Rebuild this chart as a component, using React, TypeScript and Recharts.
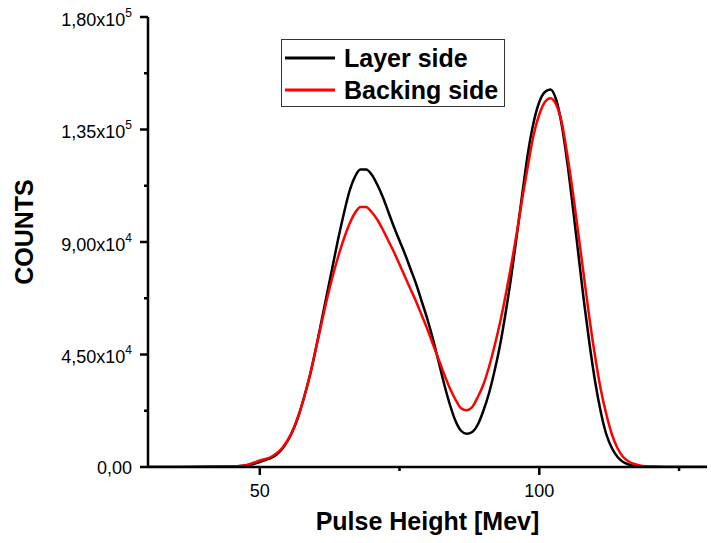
import React from 'react';
import { LineChart, Line, XAxis, YAxis, Legend, Label } from 'recharts';

// Pulse height channel (MeV)
const pulseHeight = [
  30, 35, 40, 44, 46, 47, 48, 49, 50, 51, 52, 53, 54, 55, 56, 57, 58, 59, 60, 61,
  62, 63, 64, 65, 66, 67, 68, 69, 70, 71, 72, 73, 74, 75, 76, 77, 78, 79, 80, 81,
  82, 83, 84, 85, 86, 87, 88, 89, 90, 91, 92, 93, 94, 95, 96, 97, 98, 99, 100, 101,
  102, 103, 104, 105, 106, 107, 108, 109, 110, 111, 112, 113, 114, 115, 116, 117, 118, 119, 120, 125,
  130,
];

// Counts in thousands, layer side
const layerSide = [
  0, 0, 0.1, 0.2, 0.3, 0.5, 0.8, 1.3, 2.0, 2.8, 3.6, 5.0, 7.2, 10.5, 15, 21, 28.5, 37, 47, 58,
  69, 80, 91, 101, 110, 116, 119, 119, 117, 113, 108, 102, 96, 90.5, 85, 79, 73, 66, 59, 51,
  42, 33, 25, 18.5, 14.5, 13.3, 14, 17, 22.5, 29.5, 38.5, 49, 62, 76.5, 93, 110, 126, 138, 146, 150,
  151, 147, 137, 122, 104, 85, 66, 49, 34, 22, 13, 7.5, 4, 2, 1, 0.4, 0.2, 0.1, 0.1, 0,
  0,
];

// Counts in thousands, backing side
const backingSide = [
  0, 0, 0.1, 0.2, 0.3, 0.5, 1, 1.8, 2.6, 3.2, 4.0, 5.5, 7.6, 10.8, 15.2, 21, 28.5, 37, 47, 57,
  67, 76, 84, 91, 97, 101.5, 104, 104, 102, 99, 95, 90.5, 86, 81, 76, 71, 66, 60.5, 55, 49,
  43, 37, 31.5, 27, 23.5, 22.7, 24, 28, 33, 40, 48.5, 58, 69, 81, 94, 108, 121, 133, 141, 146,
  147.5, 145, 138, 125, 110, 93, 76, 59, 44, 31, 21, 13, 7.5, 4, 2.2, 1.2, 0.6, 0.3, 0.2, 0,
  0,
];

const seriesNames = ['Layer side', 'Backing side'];

const xMajorTicks = [50, 100];
const xMinorTicks = [75, 125];
const yMajorTicks = [0, 45000, 90000, 135000, 180000];
const yMinorTicks = [22500, 67500, 112500, 157500];
const yTickMantissas = ['0,00', '4,50x10', '9,00x10', '1,35x10', '1,80x10'];
const yTickExponents = ['', '4', '4', '5', '5'];

const data = pulseHeight.map((x, i) => ({
  x,
  layer: layerSide[i] * 1000,
  backing: backingSide[i] * 1000,
}));

const FONT = '"Liberation Sans", Arial, Helvetica, sans-serif';
const AXIS = { stroke: '#000', strokeWidth: 2.5 };
const MAJOR = 8;
const MINOR = 4;
const TICK_FONT = 18;

const xAllTicks = [...xMajorTicks, ...xMinorTicks].sort((a, b) => a - b);
const yAllTicks = [...yMajorTicks, ...yMinorTicks].sort((a, b) => a - b);

const BottomTick = (props: any) => {
  const { x, y, payload } = props;
  const major = xMajorTicks.includes(payload.value);
  return (
    <g>
      <line x1={x} x2={x} y1={y} y2={y + (major ? MAJOR : MINOR)} stroke="#000" strokeWidth={2.5} />
      {major && (
        <text x={x} y={y + 30} textAnchor="middle" fontFamily={FONT} fontSize={TICK_FONT} fill="#000">
          {payload.value}
        </text>
      )}
    </g>
  );
};

const TopTick = (props: any) => {
  const { x, y, payload } = props;
  const major = xMajorTicks.includes(payload.value);
  return <line x1={x} x2={x} y1={y} y2={y - (major ? MAJOR : MINOR)} stroke="#000" strokeWidth={2.5} />;
};

const LeftTick = (props: any) => {
  const { x, y, payload } = props;
  const idx = yMajorTicks.indexOf(payload.value);
  const major = idx >= 0;
  return (
    <g>
      <line x1={x - (major ? MAJOR : MINOR)} x2={x} y1={y} y2={y} stroke="#000" strokeWidth={2.5} />
      {major && (
        <text
          x={x - 16}
          y={y + (yTickExponents[idx] ? 8.5 : 6.5)}
          textAnchor="end"
          fontFamily={FONT}
          fontSize={TICK_FONT}
          fill="#000"
        >
          {yTickMantissas[idx]}
          {yTickExponents[idx] && (
            <tspan dy={-9} fontSize={12}>
              {yTickExponents[idx]}
            </tspan>
          )}
        </text>
      )}
    </g>
  );
};

const RightTick = (props: any) => {
  const { x, y, payload } = props;
  const major = yMajorTicks.includes(payload.value);
  return <line x1={x} x2={x + (major ? MAJOR : MINOR)} y1={y} y2={y} stroke="#000" strokeWidth={2.5} />;
};

const LegendBox = (props: any) => {
  const items = [...(props.payload || [])].sort(
    (a: any, b: any) => seriesNames.indexOf(a.value) - seriesNames.indexOf(b.value)
  );
  return (
    <div
      style={{
        width: 224,
        height: 68,
        border: '1px solid #333',
        boxSizing: 'border-box',
        background: '#fff',
        position: 'relative',
        fontFamily: FONT,
        fontWeight: 'bold',
        fontSize: 25,
        color: '#000',
      }}
    >
      {items.map((entry: any, i: number) => (
        <div
          key={entry.value}
          style={{
            position: 'absolute',
            left: 3,
            top: 2 + i * 32,
            height: 32,
            display: 'flex',
            alignItems: 'center',
            whiteSpace: 'nowrap',
          }}
        >
          <svg width={50} height={4} style={{ display: 'block' }}>
            <line x1={0} x2={50} y1={2} y2={2} stroke={entry.color} strokeWidth={3} />
          </svg>
          <span style={{ marginLeft: 9, lineHeight: '32px' }}>{entry.value}</span>
        </div>
      ))}
    </div>
  );
};

const CountsLabel = (props: any) => {
  const { viewBox } = props;
  const cx = viewBox.x + 33;
  const cy = viewBox.y + viewBox.height / 2 - 10;
  return (
    <text
      x={cx}
      y={cy}
      transform={`rotate(-90 ${cx} ${cy})`}
      textAnchor="middle"
      fontFamily={FONT}
      fontWeight="bold"
      fontSize={25}
      fill="#000"
    >
      COUNTS
    </text>
  );
};

export default function App() {
  return (
    <div style={{ position: 'absolute', left: 0, top: 0, background: '#fff' }}>
      <LineChart width={711} height={543} data={data} margin={{ top: 17, right: 4, bottom: 0, left: 0 }}>
        <XAxis
          dataKey="x"
          type="number"
          domain={[30, 130]}
          ticks={xAllTicks}
          interval={0}
          height={76}
          axisLine={AXIS}
          tickLine={false}
          tickSize={0}
          tickMargin={0}
          tick={<BottomTick />}
          allowDataOverflow
        >
          <Label
            value="Pulse Height [Mev]"
            position="insideBottom"
            offset={13}
            style={{ fontFamily: FONT, fontWeight: 'bold', fontSize: 25, fill: '#000' }}
          />
        </XAxis>
        <XAxis
          xAxisId="top"
          dataKey="x"
          type="number"
          orientation="top"
          domain={[30, 130]}
          ticks={xAllTicks}
          interval={0}
          height={0}
          axisLine={AXIS}
          tickLine={false}
          tickSize={0}
          tickMargin={0}
          tick={<TopTick />}
          allowDataOverflow
        />
        <YAxis
          type="number"
          domain={[0, 180000]}
          ticks={yAllTicks}
          interval={0}
          width={148}
          axisLine={AXIS}
          tickLine={false}
          tickSize={0}
          tickMargin={0}
          tick={<LeftTick />}
          allowDataOverflow
        >
          <Label content={<CountsLabel />} />
        </YAxis>
        <YAxis
          yAxisId="right"
          orientation="right"
          type="number"
          domain={[0, 180000]}
          ticks={yAllTicks}
          interval={0}
          width={0}
          axisLine={AXIS}
          tickLine={false}
          tickSize={0}
          tickMargin={0}
          tick={<RightTick />}
          allowDataOverflow
        />
        <Legend
          content={<LegendBox />}
          layout="horizontal"
          verticalAlign="middle"
          align="center"
          wrapperStyle={{ left: 281, top: 39, width: 224, height: 68 }}
        />
        <Line
          name="Layer side"
          dataKey="layer"
          type="monotone"
          stroke="#000000"
          strokeWidth={2.5}
          dot={false}
          isAnimationActive={false}
        />
        <Line
          name="Backing side"
          dataKey="backing"
          type="monotone"
          stroke="#ff0000"
          strokeWidth={2.5}
          dot={false}
          isAnimationActive={false}
        />
      </LineChart>
    </div>
  );
}
